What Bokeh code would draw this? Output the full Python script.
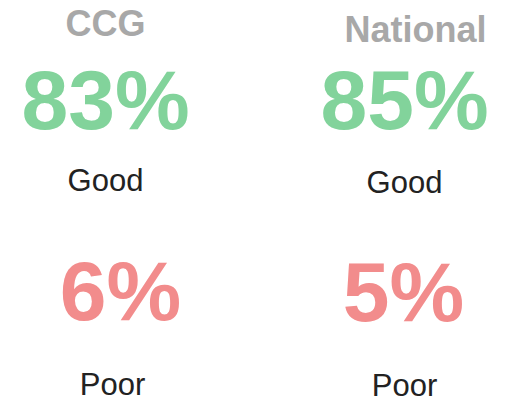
from bokeh.plotting import figure
from bokeh.models import Range1d, ColumnDataSource
from bokeh.core.properties import value
from bokeh.embed import file_html
from bokeh.resources import INLINE

# --- data ---
groups = ["CCG", "National"]
good_pct = [83, 85]
poor_pct = [6, 5]
good_label = "Good"
poor_label = "Poor"

# --- styles ---
FONT = "Liberation Sans"
GRAY = "#a8a8a8"
GREEN = "#82d39b"
RED = "#f28c8c"
DARK = "#222222"

W, H = 510, 404
p = figure(width=W, height=H, output_backend="svg", toolbar_location=None,
           x_range=Range1d(-0.3512, -0.3512 + W / 299.0), y_range=Range1d(H, 0),
           min_border=0, outline_line_color=None)
p.axis.visible = False
p.grid.visible = False
p.background_fill_color = "white"
p.border_fill_color = "white"

idx = list(range(len(groups)))


def row(texts, ys, dxs, size, color, bold):
    src = ColumnDataSource(dict(x=idx, y=ys, t=texts, dx=dxs))
    p.text(x="x", y="y", text="t", x_offset="dx", source=src, text_font=value(FONT),
           text_font_style="bold" if bold else "normal", text_font_size=f"{size}px",
           text_color=color, text_align="center", text_baseline="alphabetic")


row(groups, [22.7, 28.6], [0, 11], 36, GRAY, True)
row([f"{v}%" for v in good_pct], [99.1, 99.1], [0, 0], 84, GREEN, True)
row([good_label] * 2, [180.3, 182.3], [0, 0], 31, DARK, False)
row([f"{v}%" for v in poor_pct], [290.3, 291.2], [15, -1], 84, RED, True)
row([poor_label] * 2, [383.5, 384.5], [7, 0], 31, DARK, False)

open("out.html", "w").write(file_html(p, INLINE))
